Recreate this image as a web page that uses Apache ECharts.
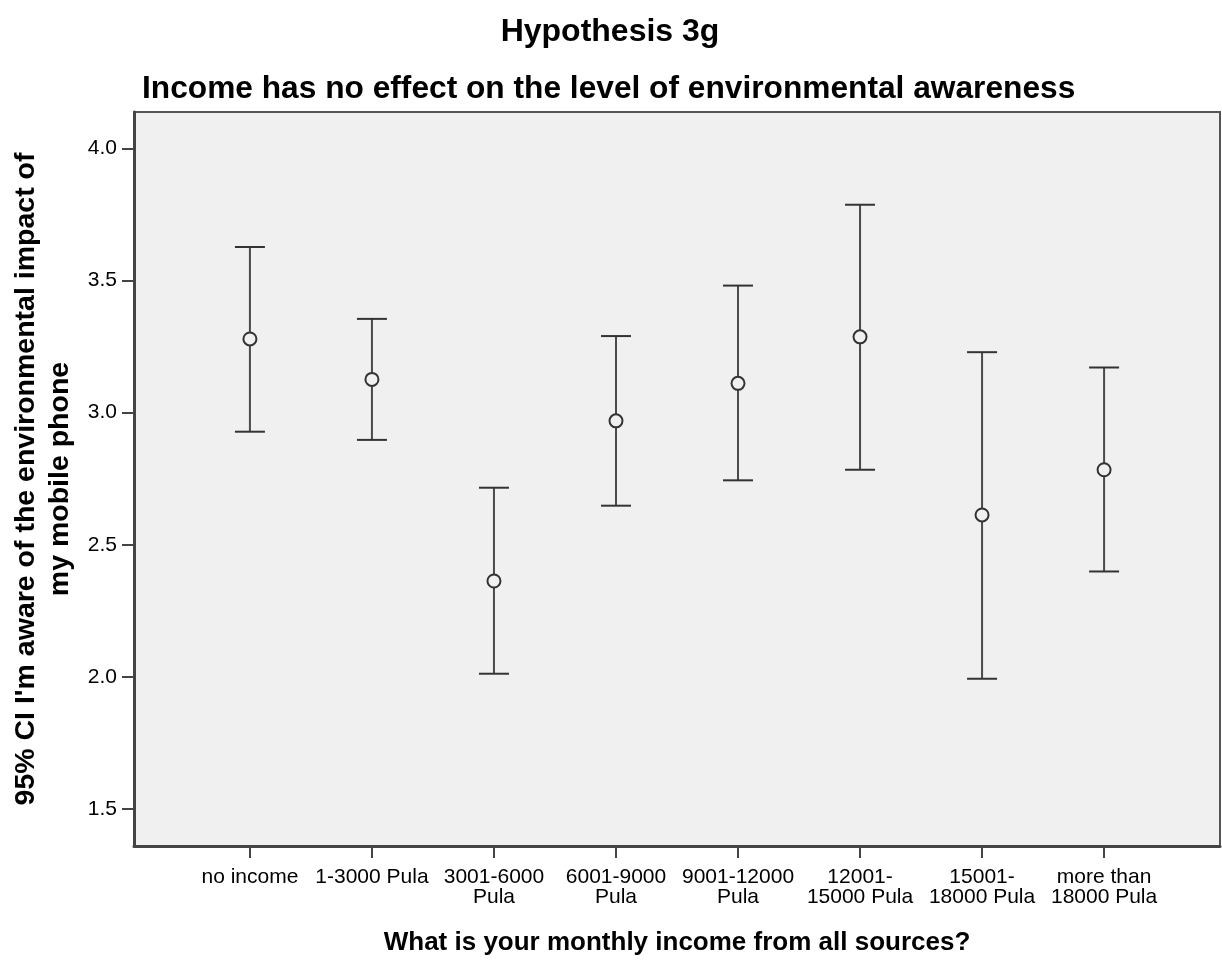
<!DOCTYPE html>
<html>
<head>
<meta charset="utf-8">
<script src="https://cdn.jsdelivr.net/npm/echarts@6/dist/echarts.min.js"></script>
<style>
  html, body { margin: 0; padding: 0; background: #ffffff; }
  #chart { width: 1222px; height: 961px; }
</style>
</head>
<body>
<div id="chart"></div>
<script>
// Income groups on the x axis
const categories = [
  'no income',
  '1-3000 Pula',
  '3001-6000\nPula',
  '6001-9000\nPula',
  '9001-12000\nPula',
  '12001-\n15000 Pula',
  '15001-\n18000 Pula',
  'more than\n18000 Pula'
];
// Group means and 95% confidence limits
const means = [3.279, 3.126, 2.363, 2.969, 3.111, 3.287, 2.613, 2.784];
const lower = [2.928, 2.897, 2.012, 2.648, 2.744, 2.784, 1.993, 2.399];
const upper = [3.627, 3.355, 2.716, 3.290, 3.481, 3.787, 3.229, 3.171];
// Y axis tick positions
const yTicks = [1.5, 2.0, 2.5, 3.0, 3.5, 4.0];

const FONT = '"Liberation Sans", Arial, sans-serif';
const INK = '#333333';

const errorData = categories.map((c, i) => [i, lower[i], upper[i], means[i]]);
const xTicks = categories.map((c, i) => i);

const chart = echarts.init(document.getElementById('chart'), null, { renderer: 'canvas' });

chart.setOption({
  backgroundColor: '#ffffff',
  animation: false,
  textStyle: { fontFamily: FONT },
  title: [
    {
      text: 'Hypothesis 3g',
      left: 605, top: 11,
      textAlign: 'center',
      textStyle: { fontFamily: FONT, fontWeight: 'bold', fontSize: 32, color: '#000' }
    },
    {
      text: 'Income has no effect on the level of environmental awareness',
      left: 137, top: 68,
      textStyle: { fontFamily: FONT, fontWeight: 'bold', fontSize: 31.7, color: '#000' }
    }
  ],
  grid: {
    left: 134, right: 2, top: 112, bottom: 115,
    outerBoundsMode: 'none',
    containLabel: false,
    show: true,
    backgroundColor: '#f0f0f0',
    borderColor: '#555555',
    borderWidth: 2
  },
  xAxis: {
    type: 'value',
    min: -0.95, max: 7.95,
    splitLine: { show: false },
    axisLine: { show: true, onZero: false, lineStyle: { color: '#444', width: 3 } },
    axisTick: { show: true, customValues: xTicks, length: 12, lineStyle: { color: '#444', width: 2 } },
    axisLabel: {
      customValues: xTicks,
      formatter: v => categories[Math.round(v)],
      fontFamily: FONT, fontSize: 21, color: '#000', lineHeight: 20, margin: 21
    },
    name: 'What is your monthly income from all sources?',
    nameLocation: 'middle',
    nameGap: 84,
    nameTextStyle: { fontFamily: FONT, fontWeight: 'bold', fontSize: 26, color: '#000' }
  },
  yAxis: {
    type: 'value',
    min: 1.36, max: 4.138,
    splitLine: { show: false },
    axisLine: { show: true, onZero: false, lineStyle: { color: '#444', width: 3 } },
    axisTick: { show: true, customValues: yTicks, length: 12, lineStyle: { color: '#444', width: 2 } },
    axisLabel: {
      customValues: yTicks,
      formatter: v => v.toFixed(1),
      fontFamily: FONT, fontSize: 21, color: '#000', margin: 17
    },
    name: "95% CI I'm aware of the environmental impact of\nmy mobile phone",
    nameLocation: 'middle',
    nameRotate: 90,
    nameGap: 55,
    nameTextStyle: { fontFamily: FONT, fontWeight: 'bold', fontSize: 28.5, color: '#000', lineHeight: 34, align: 'center' }
  },
  series: [
    {
      type: 'custom',
      data: errorData,
      encode: { x: 0, y: [1, 2, 3] },
      renderItem: function (params, api) {
        const x = api.value(0);
        const lo = api.coord([x, api.value(1)]);
        const hi = api.coord([x, api.value(2)]);
        const mid = api.coord([x, api.value(3)]);
        const half = 15;
        const line = { stroke: INK, lineWidth: 2 };
        return {
          type: 'group',
          children: [
            { type: 'line', shape: { x1: hi[0], y1: hi[1], x2: lo[0], y2: lo[1] }, style: { stroke: '#4a4a4a', lineWidth: 2 } },
            { type: 'line', shape: { x1: hi[0] - half, y1: hi[1], x2: hi[0] + half, y2: hi[1] }, style: line },
            { type: 'line', shape: { x1: lo[0] - half, y1: lo[1], x2: lo[0] + half, y2: lo[1] }, style: line },
            { type: 'circle', shape: { cx: mid[0], cy: mid[1], r: 6.5 }, style: { fill: '#f0f0f0', stroke: INK, lineWidth: 2 } }
          ]
        };
      }
    }
  ]
});
</script>
</body>
</html>
